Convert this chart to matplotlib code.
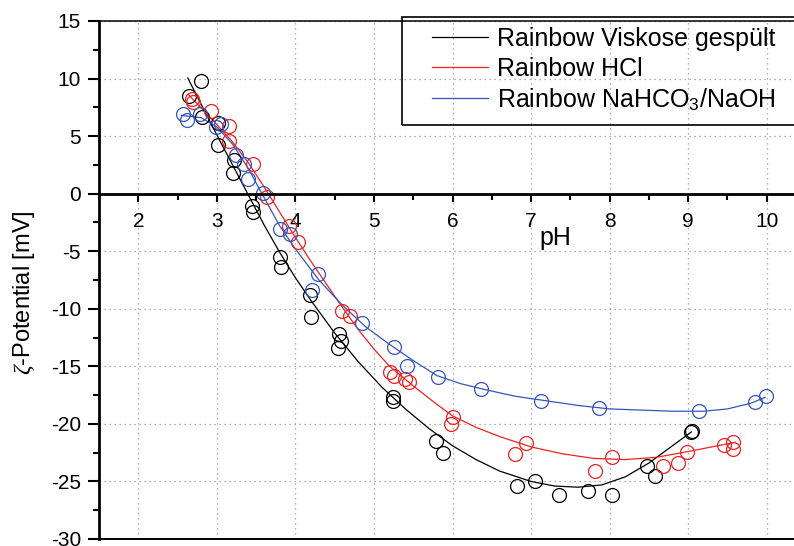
import numpy as np
import matplotlib
matplotlib.use("Agg")
import matplotlib.pyplot as plt
from matplotlib.ticker import MultipleLocator
from matplotlib.patches import Rectangle

plt.rcParams['font.family'] = ['Liberation Sans', 'DejaVu Sans']
plt.rcParams['mathtext.fontset'] = 'custom'
plt.rcParams['mathtext.rm'] = 'Liberation Sans'
plt.rcParams['mathtext.it'] = 'Liberation Serif:italic'
plt.rcParams['axes.unicode_minus'] = False

# measured points: Rainbow Viskose gespuelt
ph_visk = [2.64, 2.80, 2.81, 3.02, 3.02, 3.22, 3.20, 3.45, 3.46, 3.81, 3.82, 4.19, 4.20,
           4.56, 4.58, 4.54, 5.24, 5.24, 5.79, 5.88, 6.82, 7.05, 7.36, 7.72, 8.03,
           8.48, 8.58, 9.04, 9.05]
zeta_visk = [8.5, 9.8, 6.65, 4.2, 6.1, 2.9, 1.8, -1.07, -1.6, -5.5, -6.4, -8.8, -10.7,
             -12.2, -12.8, -13.4, -17.7, -18.0, -21.5, -22.5, -25.4, -25.0, -26.2, -25.8, -26.2,
             -23.7, -24.5, -20.7, -20.6]

# Rainbow HCl
ph_hcl = [2.69, 2.70, 2.93, 3.16, 3.16, 3.46, 3.64, 3.92, 4.03, 4.59, 4.70, 5.21, 5.25,
          5.40, 5.45, 5.98, 6.01, 6.79, 6.94, 7.81, 8.03, 8.68, 8.87, 8.98, 9.46, 9.57, 9.57]
zeta_hcl = [8.2, 7.95, 7.2, 5.9, 4.6, 2.6, -0.3, -2.8, -4.2, -10.2, -10.6, -15.5, -15.8,
            -16.1, -16.4, -20.0, -19.4, -22.6, -21.7, -24.1, -22.9, -23.7, -23.4, -22.4, -21.8, -21.6, -22.2]

# Rainbow NaHCO3/NaOH
ph_naoh = [2.57, 2.62, 2.78, 2.99, 3.05, 3.24, 3.35, 3.40, 3.59, 3.80, 3.93, 4.21, 4.29,
           4.85, 5.25, 5.42, 5.81, 6.36, 7.13, 7.87, 9.14, 9.85, 9.99]
zeta_naoh = [6.9, 6.4, 6.9, 5.8, 6.05, 3.4, 2.6, 1.25, 0.1, -3.1, -3.5, -8.4, -7.0,
             -11.2, -13.3, -15.0, -15.9, -17.0, -18.0, -18.6, -18.9, -18.1, -17.6]

# fitted curves
fit_ph_visk = [2.63, 3.0, 3.2, 3.4, 3.6, 3.8, 4.0, 4.2, 4.5, 4.8, 5.1, 5.4, 5.7, 6.0, 6.3,
               6.6, 7.0, 7.3, 7.6, 7.9, 8.2, 8.5, 8.8, 9.04]
fit_zeta_visk = [10.05, 5.1, 2.5, -0.1, -2.7, -5.1, -7.3, -9.3, -12.1, -14.6, -16.8, -18.7,
                 -20.4, -21.9, -23.1, -24.1, -25.0, -25.4, -25.5, -25.3, -24.6, -23.4, -21.9, -20.7]

fit_ph_hcl = [2.64, 3.0, 3.2, 3.4, 3.6, 3.8, 4.0, 4.2, 4.4, 4.6, 4.8, 5.0, 5.2, 5.5, 5.8,
              6.0, 6.3, 6.6, 7.0, 7.4, 7.8, 8.2, 8.6, 9.0, 9.3, 9.6]
fit_zeta_hcl = [8.6, 6.0, 4.5, 2.7, 0.6, -1.6, -3.8, -5.9, -7.9, -9.9, -11.8, -13.5, -15.0,
                -16.7, -18.3, -19.3, -20.3, -21.1, -22.0, -22.6, -23.0, -23.1, -22.9, -22.4,
                -22.0, -21.6]

fit_ph_naoh = [2.55, 2.8, 3.0, 3.2, 3.4, 3.55, 3.8, 4.0, 4.3, 4.6, 4.9, 5.2, 5.5, 5.8, 6.1,
               6.4, 6.8, 7.2, 7.6, 8.0, 8.4, 8.8, 9.2, 9.5, 9.8, 9.98]
fit_zeta_naoh = [6.8, 6.6, 5.8, 4.3, 2.2, 0.3, -2.8, -4.8, -7.5, -9.7, -11.6, -13.1, -14.5,
                 -15.8, -16.5, -17.0, -17.6, -18.0, -18.4, -18.7, -18.8, -18.9, -18.9, -18.7,
                 -18.2, -17.7]

c_visk = 'black'
c_hcl = '#ee2222'
c_naoh = '#3355bb'

fig = plt.figure(figsize=(7.94, 5.46), dpi=100)
ax = fig.add_axes([99/794, 7/546, 707/794, 518/546])

ax.plot(fit_ph_visk, fit_zeta_visk, color=c_visk, lw=0.9, label='Rainbow Viskose gespült')
ax.plot(fit_ph_hcl, fit_zeta_hcl, color=c_hcl, lw=0.9, label='Rainbow HCl')
ax.plot(fit_ph_naoh, fit_zeta_naoh, color=c_naoh, lw=0.9, label=r'Rainbow NaHCO$_3$/NaOH')

for xs, ys, c in [(ph_visk, zeta_visk, c_visk), (ph_hcl, zeta_hcl, c_hcl), (ph_naoh, zeta_naoh, c_naoh)]:
    ax.plot(xs, ys, 'o', ls='none', mfc='none', mec=c, ms=10, mew=0.9)

ax.set_xlim(1.5, 10.5)
ax.set_ylim(-30, 15)
ax.xaxis.set_major_locator(MultipleLocator(1))
ax.xaxis.set_minor_locator(MultipleLocator(0.5))
ax.yaxis.set_major_locator(MultipleLocator(5))
ax.yaxis.set_minor_locator(MultipleLocator(2.5))

ax.grid(True, which='major', color='#999999', ls=(0, (1, 3)), lw=0.9)

ax.spines['bottom'].set_position(('data', 0))
ax.spines['bottom'].set_linewidth(2)
ax.spines['left'].set_linewidth(2)
ax.spines['top'].set_linewidth(1.1)
ax.spines['right'].set_visible(False)
ax.axhline(-30, color='black', lw=1.4, clip_on=False)

ax.tick_params(axis='x', which='major', direction='out', length=6, width=1.5, pad=7, labelsize=15)
ax.tick_params(axis='x', which='minor', direction='out', length=4, width=1.5)
ax.tick_params(axis='y', which='major', direction='out', length=8, width=1.5, pad=5, labelsize=15)
ax.tick_params(axis='y', which='minor', direction='out', length=4, width=1.5)

ax.set_xlabel('pH', fontsize=18, va='top')
ax.xaxis.set_label_coords(0.645, 0.604)
ax.set_ylabel(r'$\zeta$-Potential [mV]', fontsize=17)
ax.yaxis.set_label_coords(-0.088, 0.475)

fig.patches.append(Rectangle((402/794, 1 - 125/546), 0.6, 108/546, transform=fig.transFigure,
                             fill=False, edgecolor='black', lw=1.2))
ax.legend(loc='upper left', bbox_to_anchor=(432/794, 1 - 27/546), bbox_transform=fig.transFigure,
          frameon=False, fontsize=18, borderpad=0, borderaxespad=0, handlelength=2.24,
          handletextpad=0.36, labelspacing=0.22)

fig.savefig('out.png', dpi=100)
